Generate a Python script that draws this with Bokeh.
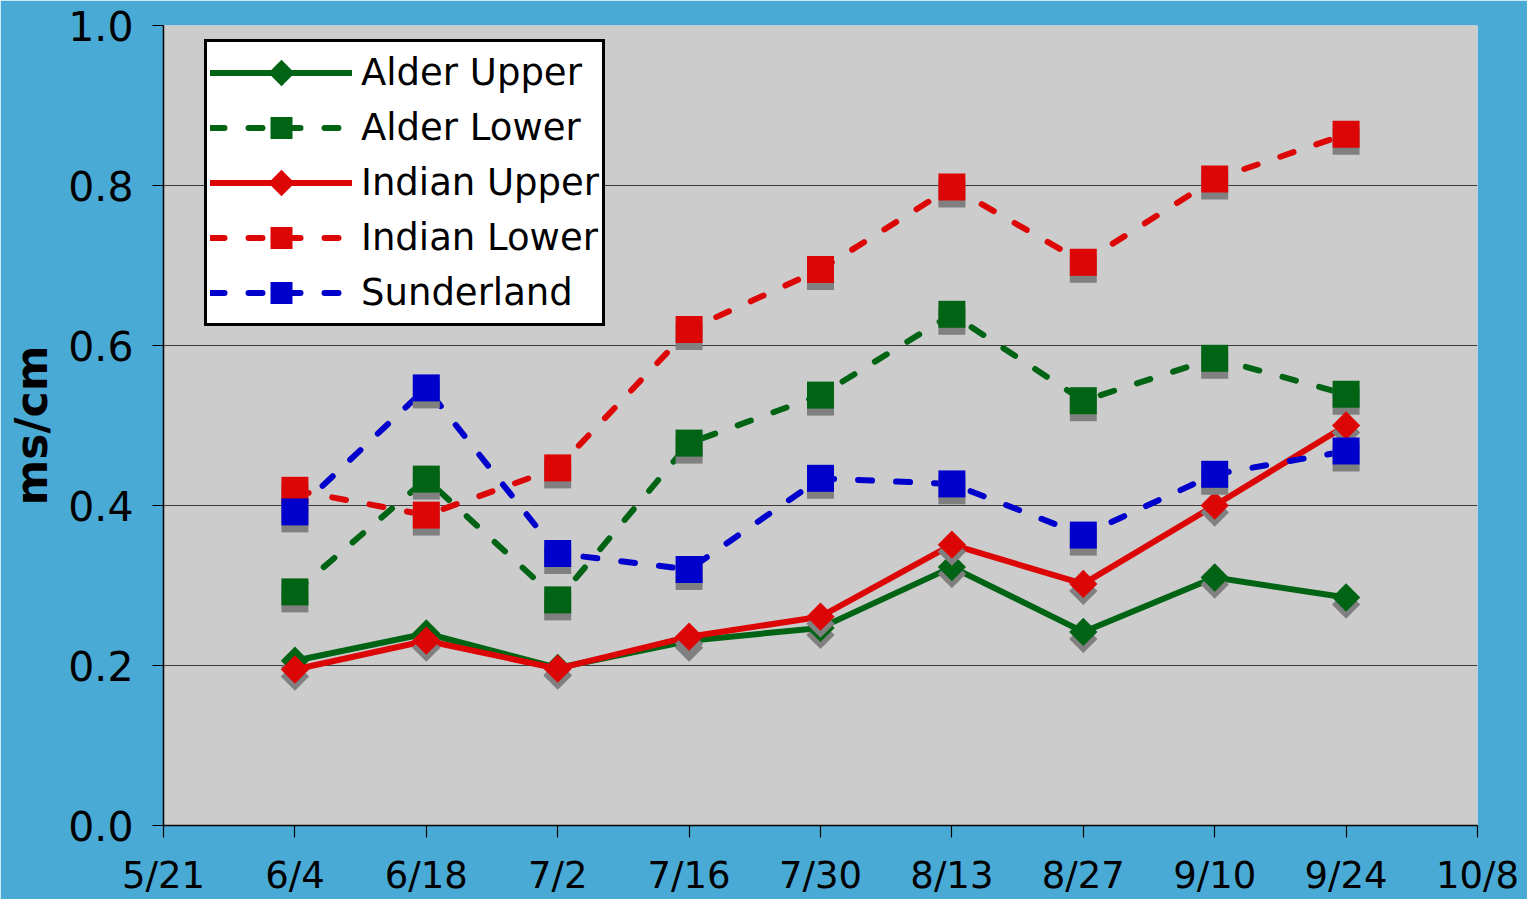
import pandas as pd
from math import pi
from bokeh.plotting import figure
from bokeh.models import FixedTicker, Legend, LegendItem, Range1d, CustomJS
from bokeh.embed import file_html
from bokeh.resources import INLINE

# ---------------- data ----------------
tick_dates = ["2008-05-21", "2008-06-04", "2008-06-18", "2008-07-02", "2008-07-16",
              "2008-07-30", "2008-08-13", "2008-08-27", "2008-09-10", "2008-09-24",
              "2008-10-08"]
tick_labels = ["5/21", "6/4", "6/18", "7/2", "7/16", "7/30", "8/13", "8/27",
               "9/10", "9/24", "10/8"]
sample_dates = ["2008-06-04", "2008-06-18", "2008-07-02", "2008-07-16", "2008-07-30",
                "2008-08-13", "2008-08-27", "2008-09-10", "2008-09-24"]

alder_upper = [0.206, 0.240, 0.197, 0.231, 0.247, 0.323, 0.242, 0.310, 0.285]
alder_lower = [0.292, 0.433, 0.282, 0.478, 0.538, 0.639, 0.531, 0.584, 0.539]
indian_upper = [0.195, 0.231, 0.196, 0.236, 0.261, 0.351, 0.302, 0.400, 0.500]
indian_lower = [0.419, 0.388, 0.447, 0.620, 0.695, 0.798, 0.704, 0.808, 0.864]
sunderland = [0.392, 0.547, 0.340, 0.320, 0.434, 0.427, 0.363, 0.439, 0.468]

y_ticks = [0.0, 0.2, 0.4, 0.6, 0.8, 1.0]
y_label = "ms/cm"

# ---------------- layout ----------------
W, H = 1527, 899
ML, MR, MT, MB = 163, 50, 25, 73
FRAME_H = H - MT - MB

start = pd.Timestamp(tick_dates[0])
tick_days = [(pd.Timestamp(d) - start).days for d in tick_dates]
x_days = [(pd.Timestamp(d) - start).days for d in sample_dates]

p = figure(width=W, height=H, output_backend="svg", toolbar_location=None,
           x_range=Range1d(tick_days[0], tick_days[-1]),
           y_range=Range1d(y_ticks[0], y_ticks[-1]),
           min_border_left=ML, min_border_right=MR, min_border_top=MT,
           min_border_bottom=MB)
p.background_fill_color = "#cccccc"
p.border_fill_color = "#4aaad6"
p.outline_line_color = None

# axes
p.xaxis.ticker = FixedTicker(ticks=tick_days)
p.xaxis.major_label_overrides = {d: l for d, l in zip(tick_days, tick_labels)}
p.yaxis.ticker = FixedTicker(ticks=y_ticks)
p.yaxis.major_label_overrides = {v: f"{v:.1f}" for v in y_ticks}
for ax in (p.xaxis, p.yaxis):
    ax.axis_line_color = "black"
    ax.axis_line_width = 1.5
    ax.major_tick_line_color = "black"
    ax.major_tick_line_width = 1.2
    ax.major_tick_in = 0
    ax.minor_tick_line_color = None
    ax.major_label_text_color = "black"
    ax.major_label_text_font = "DejaVu Sans"
p.xaxis.major_tick_out = 12
p.yaxis.major_tick_out = 11
p.xaxis.major_label_text_font_size = "37px"
p.yaxis.major_label_text_font_size = "41px"
p.xaxis.major_label_standoff = 16
p.yaxis.major_label_standoff = 19
p.yaxis.axis_label = y_label
p.yaxis.axis_label_text_font = "DejaVu Sans"
p.yaxis.axis_label_text_font_size = "44px"
p.yaxis.axis_label_text_font_style = "bold"
p.yaxis.axis_label_text_color = "black"
p.yaxis.axis_label_standoff = 8

p.xgrid.grid_line_color = None
p.ygrid.grid_line_color = "#3a3a3a"
p.ygrid.grid_line_width = 1.2

# ---------------- series ----------------
green = "#006414"
red = "#dd0606"
blue = "#0000cc"
shadow = "#808080"
shadow_dy = 7 * (y_ticks[-1] - y_ticks[0]) / FRAME_H

series = [
    ("Alder Upper", alder_upper, green, "solid", "diamond"),
    ("Alder Lower", alder_lower, green, "14 24", "square"),
    ("Indian Upper", indian_upper, red, "solid", "diamond"),
    ("Indian Lower", indian_lower, red, "14 24", "square"),
    ("Sunderland", sunderland, blue, "14 24", "square"),
]

# square diamond (equal width/height) for the legend, where glyph angles are ignored
diamond_def = CustomJS(code="""
export default (args, obj, {ctx, i, r, visuals}) => {
  const h = r*1.2
  ctx.moveTo(0, -h)
  ctx.lineTo(h, 0)
  ctx.lineTo(0, h)
  ctx.lineTo(-h, 0)
  ctx.closePath()
  visuals.fill.apply(ctx, i)
}
""")

nan_y = [float("nan")] * len(x_days)
items = []
for name, vals, color, dash, mk in series:
    ln = p.line(x_days, vals, line_color=color, line_width=6, line_dash=dash,
                line_cap="round", line_join="round")
    if mk == "diamond":
        kw = dict(marker="square", size=20, angle=pi / 4)
    else:
        kw = dict(marker="square", size=27)
    p.scatter(x_days, [v - shadow_dy for v in vals], fill_color=shadow,
              line_color=None, **kw)
    sc = p.scatter(x_days, vals, fill_color=color, line_color=None, **kw)
    if mk == "diamond":
        leg_mk = p.scatter(x_days, nan_y, marker="@sqdiamond",
                           defs={"@sqdiamond": diamond_def},
                           fill_color=color, line_color=None)
        items.append(LegendItem(label=name, renderers=[ln, leg_mk]))
    else:
        items.append(LegendItem(label=name, renderers=[ln, sc]))

GH, PAD = 55, 3
legend = Legend(items=items, location=(41, 499),
                glyph_width=142, glyph_height=GH, spacing=0, padding=PAD,
                margin=0, label_standoff=9,
                label_text_font="DejaVu Sans", label_text_font_size="37px",
                label_text_color="black",
                border_line_color="black", border_line_width=3,
                border_line_alpha=1.0,
                background_fill_color="white", background_fill_alpha=1.0)
p.add_layout(legend, "center")

open("out.html", "w").write(file_html(p, INLINE))
